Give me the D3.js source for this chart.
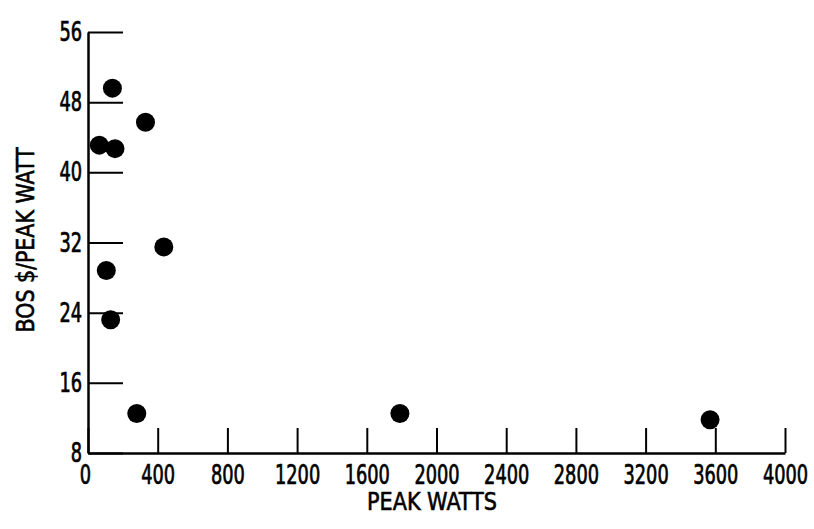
<!DOCTYPE html>
<html>
<head>
<meta charset="utf-8">
<script src="https://cdn.jsdelivr.net/npm/d3@7"></script>
<style>
  html, body { margin: 0; padding: 0; background: #fff; }
  svg { display: block; }
</style>
</head>
<body>
<svg id="chart" width="814" height="529"></svg>
<script>
// Data
const peakWatts = [65, 140, 155, 330, 435, 105, 130, 280, 1790, 3570];
const bosPerWatt = [43.1, 49.6, 42.7, 45.7, 31.5, 28.8, 23.2, 12.5, 12.5, 11.8];
const xTicks = [0, 400, 800, 1200, 1600, 2000, 2400, 2800, 3200, 3600, 4000];
const yTicks = [8, 16, 24, 32, 40, 48, 56];
const xLabel = 'PEAK WATTS';
const yLabel = 'BOS $/PEAK WATT';

const svg = d3.select('#chart');
const points = peakWatts.map((x, i) => ({ x, y: bosPerWatt[i] }));

const x = d3.scaleLinear().domain([0, 4000]).range([88, 785]);
const y = d3.scaleLinear().domain([8, 56]).range([453, 32]);

// the scan uses a very condensed face, squeeze glyphs with textLength
const font = '"DejaVu Sans Condensed", "DejaVu Sans", sans-serif';
const digitW = 11.3;

// x axis, ticks pointing up
const xAxis = svg.append('g')
  .attr('transform', `translate(0,${y(8)})`)
  .call(d3.axisBottom(x).tickValues(xTicks).tickSizeInner(-25).tickSizeOuter(0).tickPadding(12).tickFormat(d3.format('d')));

// y axis, ticks pointing right
const yAxis = svg.append('g')
  .attr('transform', `translate(${x(0)},0)`)
  .call(d3.axisLeft(y).tickValues(yTicks).tickSizeInner(-35).tickSizeOuter(0).tickPadding(6).tickFormat(d3.format('d')));

[xAxis, yAxis].forEach(g => {
  g.select('.domain').attr('stroke', '#000').attr('stroke-width', 2.5);
  g.selectAll('.tick line').attr('stroke', '#000').attr('stroke-width', 2);
  g.selectAll('.tick text')
    .attr('fill', '#000')
    .attr('stroke', '#000')
    .attr('stroke-width', 0.7)
    .attr('textLength', d => String(d).length * digitW)
    .attr('lengthAdjust', 'spacingAndGlyphs')
    .style('font-family', font)
    .style('font-size', '27px');
});
xAxis.selectAll('.tick text').attr('dx', d => d === 0 ? -3 : 0);

// points
svg.append('g')
  .selectAll('circle')
  .data(points)
  .enter()
  .append('circle')
  .attr('cx', d => x(d.x))
  .attr('cy', d => y(d.y))
  .attr('r', 9.5)
  .attr('fill', '#000');

// axis titles
svg.append('text')
  .attr('x', 432)
  .attr('y', 510)
  .attr('text-anchor', 'middle')
  .attr('textLength', 130)
  .attr('lengthAdjust', 'spacingAndGlyphs')
  .attr('stroke', '#000')
  .attr('stroke-width', 0.6)
  .style('font-family', font)
  .style('font-size', '25px')
  .attr('fill', '#000')
  .text(xLabel);

svg.append('text')
  .attr('transform', 'translate(34,240) rotate(-90)')
  .attr('text-anchor', 'middle')
  .attr('textLength', 185)
  .attr('lengthAdjust', 'spacingAndGlyphs')
  .attr('stroke', '#000')
  .attr('stroke-width', 0.6)
  .style('font-family', font)
  .style('font-size', '25px')
  .attr('fill', '#000')
  .text(yLabel);
</script>
</body>
</html>
